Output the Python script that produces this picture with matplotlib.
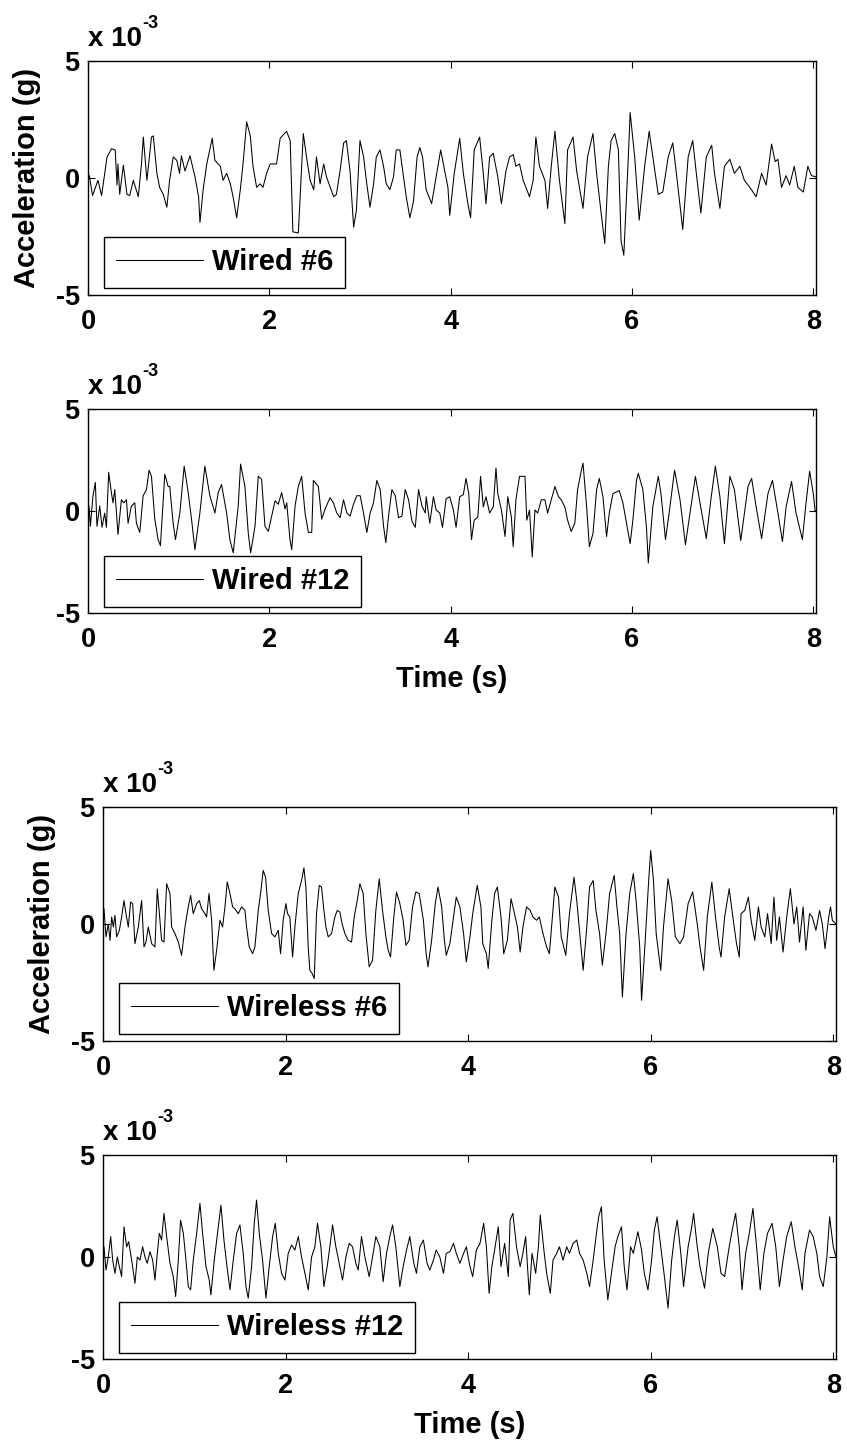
import matplotlib.pyplot as plt
from matplotlib.transforms import offset_copy

plt.rcParams['font.family'] = ['Liberation Sans', 'DejaVu Sans']
plt.rcParams['font.weight'] = 'bold'
plt.rcParams['axes.labelweight'] = 'bold'
plt.rcParams['axes.unicode_minus'] = False

# acceleration in units of 1e-3 g as (time [s], value)
wired6 = [
    (0.0, 0.1), (0.015, 0.1), (0.05, -0.75), (0.11, -0.1), (0.15, -0.75), (0.21, 0.9), (0.26, 1.25),
    (0.30, 1.2), (0.32, -0.3), (0.33, 0.6), (0.35, -0.7), (0.39, 0.55), (0.43, -0.7), (0.46, -0.75),
    (0.50, -0.1), (0.555, -0.8), (0.59, 0.6), (0.61, 1.75), (0.65, -0.1), (0.665, 0.45), (0.70, 1.75),
    (0.72, 1.8), (0.76, 0.2), (0.79, -0.4), (0.83, -0.7), (0.87, -1.25), (0.90, -0.1), (0.94, 0.9),
    (0.98, 0.75), (1.01, 0.2), (1.03, 0.95), (1.07, 0.3), (1.125, 0.95), (1.18, 0.05), (1.22, -0.8),
    (1.235, -1.9), (1.27, -0.5), (1.31, 0.6), (1.37, 1.7), (1.40, 0.75), (1.46, 0.5), (1.49, -0.1),
    (1.53, 0.2), (1.57, -0.25), (1.60, -0.8), (1.64, -1.7), (1.68, -0.5), (1.71, 0.6), (1.75, 2.4),
    (1.79, 1.8), (1.82, 0.5), (1.86, -0.4), (1.90, -0.25), (1.93, -0.4), (1.97, 0.2), (2.01, 0.6),
    (2.08, 0.6), (2.12, 1.7), (2.19, 2.0), (2.23, 1.6), (2.26, -2.3), (2.32, -2.35), (2.34, -0.8),
    (2.375, 1.9), (2.41, 0.9), (2.45, -0.1), (2.49, -0.5), (2.52, 0.9), (2.56, -0.25), (2.60, 0.6),
    (2.63, 0.05), (2.71, -0.8), (2.74, -0.7), (2.78, 0.3), (2.82, 1.5), (2.85, 1.6), (2.89, 0.3),
    (2.93, -2.1), (2.96, -1.4), (3.00, 1.6), (3.04, 0.9), (3.07, -0.1), (3.11, -1.25), (3.15, -0.25),
    (3.18, 0.9), (3.22, 1.2), (3.26, 0.5), (3.29, -0.25), (3.33, -0.5), (3.37, 0.05), (3.40, 1.2),
    (3.44, 1.2), (3.48, 0.05), (3.51, -0.8), (3.55, -1.7), (3.59, -1.0), (3.63, 0.9), (3.66, 1.3),
    (3.69, 0.9), (3.73, -0.5), (3.79, -1.1), (3.86, 0.5), (3.89, 1.2), (3.93, 0.4), (3.97, -0.4),
    (3.99, -1.6), (4.04, 0.2), (4.10, 1.7), (4.14, 0.2), (4.19, -1.1), (4.22, -1.7), (4.26, 1.2),
    (4.32, 1.75), (4.36, 0.2), (4.39, -1.1), (4.43, 0.9), (4.47, 1.05), (4.52, 0.05), (4.56, -1.1),
    (4.61, 0.3), (4.65, 0.9), (4.69, 1.0), (4.72, 0.5), (4.76, 0.6), (4.80, -0.1), (4.83, -0.4),
    (4.87, -0.8), (4.91, -0.1), (4.94, 1.75), (4.98, 0.5), (5.04, -0.1), (5.07, -1.3), (5.11, 0.5),
    (5.15, 2.0), (5.20, -0.1), (5.26, -1.95), (5.29, 1.2), (5.35, 1.75), (5.39, 0.3), (5.46, -1.3),
    (5.51, 0.9), (5.57, 1.9), (5.61, 0.2), (5.66, -1.5), (5.70, -2.8), (5.74, 0.5), (5.77, 1.6),
    (5.81, 1.9), (5.85, 1.2), (5.88, -2.7), (5.91, -3.3), (5.96, 0.9), (5.98, 2.8), (6.03, 0.9),
    (6.08, -1.8), (6.14, 0.5), (6.19, 2.0), (6.23, 0.9), (6.29, -0.7), (6.34, -0.6), (6.40, 0.9),
    (6.45, 1.5), (6.49, 0.2), (6.56, -2.2), (6.62, 0.9), (6.67, 1.6), (6.71, 0.2), (6.76, -1.5),
    (6.82, 0.9), (6.88, 1.4), (6.91, 0.2), (6.97, -1.3), (7.02, 0.5), (7.08, 0.8), (7.13, 0.2),
    (7.19, 0.5), (7.24, -0.1), (7.30, -0.4), (7.37, -0.8), (7.43, 0.2), (7.48, -0.3), (7.54, 1.45),
    (7.58, 0.7), (7.61, 0.8), (7.65, -0.4), (7.70, 0.1), (7.74, -0.3), (7.79, 0.5), (7.83, -0.4),
    (7.89, -0.6), (7.94, 0.5), (7.98, 0.1), (8.03, 0.05),
]

wired12 = [
    (0.0, 0.0), (0.011, 0.25), (0.026, -0.75), (0.055, 0.75), (0.081, 1.4), (0.099, -0.75), (0.129, 0.25),
    (0.155, -0.8), (0.184, -0.1), (0.203, -0.8), (0.228, 1.9), (0.258, 0.9), (0.276, 0.4), (0.295, 1.05),
    (0.331, -1.15), (0.368, 0.55), (0.394, 0.4), (0.424, 0.55), (0.442, -0.6), (0.479, 0.25), (0.516, 0.4),
    (0.534, -0.6), (0.571, -1.05), (0.608, 0.75), (0.645, 1.05), (0.674, 2.0), (0.700, 1.7), (0.737, -0.4),
    (0.773, -1.4), (0.799, -1.7), (0.847, 1.8), (0.884, 1.2), (0.902, 1.2), (0.939, -0.6), (0.965, -1.4),
    (1.013, -0.1), (1.061, 2.2), (1.105, 0.9), (1.142, -0.4), (1.179, -1.9), (1.234, -0.1), (1.289, 2.2),
    (1.344, 0.75), (1.400, -0.1), (1.436, 0.9), (1.473, 1.3), (1.529, -0.1), (1.565, -1.4), (1.602, -2.05),
    (1.657, 0.25), (1.683, 2.3), (1.731, 1.2), (1.768, -1.1), (1.794, -2.05), (1.842, -0.75), (1.878, 1.7),
    (1.915, 1.55), (1.952, -0.75), (1.989, -1.0), (2.026, -0.25), (2.063, 0.5), (2.099, 0.33), (2.136, 0.9),
    (2.173, 0.1), (2.192, 0.4), (2.228, -1.4), (2.247, -1.9), (2.284, 0.25), (2.320, 1.2), (2.357, 1.7),
    (2.394, -0.1), (2.431, -1.05), (2.468, -1.05), (2.486, 1.5), (2.541, 1.2), (2.578, -0.4), (2.615, 0.1),
    (2.670, 0.65), (2.707, 0.4), (2.744, -0.1), (2.781, -0.33), (2.818, 0.55), (2.855, -0.1), (2.891, -0.25),
    (2.928, 0.33), (2.965, 0.75), (3.002, 0.75), (3.039, -0.1), (3.076, -1.05), (3.112, -0.1), (3.149, 0.4),
    (3.186, 1.5), (3.223, 1.05), (3.260, -0.75), (3.285, -1.55), (3.315, -0.25), (3.352, 1.05), (3.389, 0.75),
    (3.425, -0.33), (3.462, -0.25), (3.499, 1.05), (3.536, 0.55), (3.573, -0.5), (3.610, -0.8), (3.646, 1.05),
    (3.683, 0.25), (3.720, -0.1), (3.73, 0.7), (3.77, -0.6), (3.81, 0.7), (3.84, 0.05), (3.88, -0.1),
    (3.91, -0.8), (3.95, 0.6), (3.99, 0.7), (4.03, 0.05), (4.06, -0.8), (4.10, 0.7), (4.14, 0.8),
    (4.17, 1.6), (4.20, 0.85), (4.23, -1.4), (4.26, -0.45), (4.30, -0.3), (4.33, 1.7), (4.36, 0.2),
    (4.39, 0.7), (4.43, -0.1), (4.47, 0.2), (4.50, 2.1), (4.52, 0.85), (4.56, 0.05), (4.60, -1.25),
    (4.63, 0.7), (4.67, -0.3), (4.69, -1.75), (4.72, 0.55), (4.76, 1.7), (4.82, 1.7), (4.84, -0.45),
    (4.87, 0.05), (4.90, -2.25), (4.93, 0.05), (4.96, -0.1), (5.00, 0.55), (5.04, 0.55), (5.07, -0.1),
    (5.11, 0.55), (5.15, 1.2), (5.19, 0.7), (5.22, 0.55), (5.26, 0.2), (5.29, -0.45), (5.33, -1.0),
    (5.37, -0.6), (5.40, 1.05), (5.44, 1.95), (5.46, 2.35), (5.50, 0.2), (5.53, -1.75), (5.57, -1.1),
    (5.61, 1.05), (5.64, 1.6), (5.68, 0.7), (5.72, -1.25), (5.75, -0.1), (5.79, 0.85), (5.86, 1.0),
    (5.90, 0.4), (5.94, -0.6), (5.98, -1.6), (6.01, -0.45), (6.05, 1.5), (6.07, 1.85), (6.12, 1.05),
    (6.16, -0.8), (6.18, -2.55), (6.23, 0.2), (6.29, 1.7), (6.32, 0.85), (6.37, -1.4), (6.41, -0.1),
    (6.47, 2.0), (6.53, 0.55), (6.59, -1.65), (6.64, -0.1), (6.70, 1.7), (6.77, -0.1), (6.82, -1.35),
    (6.87, 0.55), (6.92, 2.2), (6.97, 0.7), (7.02, -1.6), (7.08, 1.7), (7.13, 1.05), (7.20, -1.45),
    (7.28, 1.2), (7.32, 1.6), (7.37, 0.2), (7.43, -1.35), (7.50, 0.85), (7.55, 1.5), (7.61, -0.1),
    (7.66, -1.5), (7.70, 0.2), (7.76, 1.45), (7.81, -0.1), (7.88, -1.4), (7.92, 0.4), (7.96, 1.95),
    (8.00, 0.85), (8.02, 0.0), (8.03, 0.0),
]

wireless6 = [
    (0.0, 0.0), (0.011, 0.65), (0.033, -0.55), (0.058, 0.0), (0.077, -0.7), (0.095, 0.3), (0.113, -0.13),
    (0.131, 0.37), (0.150, -0.55), (0.179, -0.27), (0.204, 0.3), (0.230, 1.0), (0.252, 0.44), (0.277, -0.13),
    (0.303, 0.94), (0.325, 0.87), (0.350, -0.84), (0.387, -0.13), (0.423, 1.0), (0.449, -0.98), (0.471, -0.77),
    (0.496, -0.13), (0.533, -0.84), (0.569, -0.98), (0.595, 1.5), (0.624, 0.16), (0.642, -0.7), (0.668, -0.77),
    (0.697, 1.72), (0.734, 1.3), (0.752, -0.13), (0.788, -0.41), (0.825, -0.77), (0.861, -1.34), (0.898, -0.13),
    (0.934, 0.73), (0.960, 1.22), (0.989, 0.44), (1.026, 0.87), (1.055, 1.0), (1.080, 0.65), (1.117, 0.44),
    (1.135, 0.3), (1.161, 1.3), (1.190, 0.16), (1.215, -1.98), (1.245, -1.12), (1.281, 0.16), (1.310, -0.13),
    (1.336, 0.73), (1.361, 1.8), (1.391, 1.3), (1.420, 0.73), (1.445, 0.65), (1.482, 0.44), (1.518, 0.73),
    (1.555, 0.58), (1.573, -0.13), (1.602, -0.98), (1.639, -1.27), (1.664, -0.98), (1.701, 0.58), (1.726, 1.3),
    (1.755, 2.29), (1.781, 2.0), (1.810, 0.58), (1.847, -0.41), (1.883, -0.55), (1.920, -0.27), (1.945, -1.27),
    (1.974, 0.16), (2.004, 0.87), (2.022, 0.44), (2.047, 0.3), (2.077, -1.41), (2.102, -0.13), (2.139, 1.3),
    (2.175, 1.86), (2.201, 2.4), (2.223, 1.58), (2.248, -0.98), (2.266, -1.98), (2.292, -2.12), (2.314, -2.33),
    (2.339, 0.44), (2.369, 1.65), (2.394, 1.58), (2.420, 0.58), (2.442, -0.13), (2.467, -0.55), (2.504, -0.41),
    (2.540, 0.3), (2.566, 0.58), (2.595, 0.51), (2.620, 0.0), (2.650, -0.41), (2.686, -0.7), (2.723, -0.77),
    (2.752, 0.3), (2.785, 1.0), (2.814, 1.72), (2.850, 1.3), (2.880, -0.41), (2.916, -1.83), (2.953, -1.55),
    (2.989, 0.58), (3.026, 1.93), (3.062, 0.58), (3.099, -0.55), (3.124, -1.12), (3.150, -1.41), (3.186, 0.3),
    (3.215, 1.37), (3.252, 0.87), (3.288, 0.16), (3.318, -0.91), (3.354, -0.7), (3.391, 0.73), (3.427, 1.37),
    (3.464, 1.3), (3.51, 0.16), (3.54, -1.27), (3.56, -1.83), (3.60, -0.7), (3.64, 0.87), (3.67, 1.58),
    (3.71, 0.73), (3.74, -0.7), (3.76, -1.34), (3.80, -0.84), (3.84, 0.3), (3.87, 1.15), (3.91, 0.73),
    (3.95, -0.41), (3.98, -1.62), (4.02, -0.55), (4.05, 0.44), (4.10, 1.65), (4.14, 0.73), (4.16, -0.84),
    (4.20, -1.27), (4.22, -1.9), (4.26, 0.16), (4.29, 1.3), (4.32, 1.58), (4.36, 0.3), (4.39, -1.27),
    (4.43, -0.7), (4.47, 1.08), (4.50, 0.58), (4.54, -0.13), (4.57, -1.2), (4.60, -0.13), (4.64, 0.73),
    (4.68, 0.58), (4.71, 0.3), (4.75, 0.16), (4.78, 0.3), (4.82, -0.41), (4.86, -0.98), (4.89, -1.27),
    (4.92, 0.16), (4.95, 1.58), (4.99, 1.15), (5.02, -0.55), (5.07, -1.34), (5.11, 0.44), (5.16, 2.0),
    (5.19, 1.0), (5.23, -0.7), (5.26, -1.98), (5.30, -0.13), (5.33, 1.58), (5.37, 1.86), (5.40, 0.58),
    (5.44, -0.41), (5.47, -1.76), (5.51, -0.41), (5.55, 1.3), (5.60, 2.08), (5.63, 0.73), (5.66, -0.41),
    (5.69, -3.12), (5.73, -0.41), (5.77, 1.3), (5.81, 2.15), (5.84, 1.0), (5.88, -0.98), (5.90, -3.26),
    (5.94, -0.7), (5.98, 2.0), (6.00, 3.14), (6.03, 1.86), (6.06, -0.41), (6.11, -1.98), (6.14, -0.13),
    (6.19, 1.93), (6.23, 1.0), (6.27, -0.55), (6.32, -0.84), (6.36, -0.55), (6.41, 0.87), (6.46, 1.37),
    (6.51, 0.0), (6.54, -0.98), (6.58, -1.98), (6.62, 0.3), (6.67, 1.79), (6.71, 0.3), (6.75, -0.98),
    (6.77, -1.41), (6.81, 0.3), (6.86, 1.51), (6.90, 0.3), (6.94, -0.84), (6.97, -1.41), (6.99, 0.44),
    (7.03, 0.58), (7.07, 1.15), (7.10, 0.16), (7.14, -0.7), (7.18, 0.73), (7.21, -0.13), (7.25, -0.55),
    (7.28, 0.44), (7.32, -0.84), (7.35, 1.15), (7.38, -0.7), (7.41, 0.3), (7.45, -1.2), (7.49, 0.3),
    (7.53, 1.51), (7.57, 0.0), (7.60, 0.73), (7.63, -0.77), (7.67, 0.73), (7.70, -1.12), (7.74, 0.44),
    (7.77, 0.3), (7.81, -0.27), (7.85, 0.58), (7.88, 0.0), (7.91, -1.05), (7.95, 0.3), (7.97, 0.73),
    (7.99, 0.16), (8.03, 0.0),
]

wireless12 = [
    (0.0, 0.0), (0.011, 0.5), (0.033, -0.64), (0.058, 0.0), (0.084, 1.0), (0.106, -0.15), (0.131, -0.8),
    (0.157, 0.0), (0.179, -0.47), (0.204, -0.96), (0.230, 1.48), (0.259, 0.5), (0.281, 0.75), (0.314, -0.15),
    (0.350, -1.29), (0.376, 0.0), (0.405, -0.15), (0.434, 0.5), (0.460, 0.0), (0.485, -0.31), (0.515, 0.26),
    (0.544, -0.15), (0.569, -1.13), (0.595, 0.18), (0.617, 1.16), (0.642, 0.83), (0.668, 2.14), (0.697, 1.0),
    (0.734, -0.31), (0.770, -0.96), (0.796, -1.94), (0.825, -0.15), (0.850, 1.81), (0.880, 1.16), (0.909, -0.15),
    (0.934, -1.45), (0.960, -1.61), (0.989, -0.15), (1.026, 1.16), (1.062, 2.63), (1.091, 1.16), (1.128, -0.47),
    (1.164, -1.13), (1.182, -1.86), (1.219, -0.15), (1.255, 1.16), (1.292, 2.54), (1.325, 0.83), (1.354, -0.31),
    (1.391, -1.61), (1.427, -0.15), (1.464, 1.16), (1.500, 1.57), (1.536, 0.18), (1.566, -1.45), (1.591, -2.02),
    (1.628, -0.47), (1.657, 1.65), (1.682, 2.79), (1.712, 1.16), (1.748, -0.15), (1.785, -2.02), (1.821, -0.47),
    (1.858, 1.0), (1.887, 1.65), (1.920, 0.18), (1.956, -0.8), (1.993, -1.13), (2.029, 0.18), (2.066, 0.59),
    (2.102, 0.34), (2.139, 1.0), (2.175, 0.0), (2.212, -0.8), (2.248, -1.61), (2.285, 0.0), (2.321, 0.5),
    (2.350, 1.65), (2.387, 0.5), (2.420, -1.45), (2.456, -0.47), (2.485, 0.5), (2.515, 1.57), (2.551, 0.5),
    (2.588, -0.31), (2.624, -1.13), (2.661, 0.0), (2.697, 0.67), (2.734, 0.5), (2.770, -0.31), (2.796, -0.64),
    (2.832, 1.0), (2.869, 0.0), (2.916, -0.96), (2.953, 0.0), (2.989, 1.0), (3.033, 0.5), (3.069, -1.21),
    (3.106, 0.18), (3.142, 1.0), (3.172, 1.57), (3.208, 0.5), (3.252, -1.45), (3.288, -0.47), (3.325, 0.34),
    (3.361, 1.0), (3.405, -0.31), (3.434, -0.8), (3.471, 0.5), (3.51, 0.83), (3.55, -0.31), (3.58, -0.64),
    (3.62, -0.15), (3.65, 0.34), (3.69, 0.0), (3.73, -0.8), (3.76, 0.18), (3.80, 0.26), (3.84, 0.67),
    (3.87, 0.18), (3.91, -0.31), (3.95, 0.18), (3.98, 0.5), (4.02, -0.47), (4.05, -0.96), (4.09, 0.34),
    (4.13, 0.67), (4.17, 1.65), (4.20, 0.5), (4.23, -1.78), (4.26, -0.47), (4.29, 0.34), (4.33, 1.48),
    (4.36, -0.47), (4.40, 0.67), (4.44, -0.96), (4.46, 1.81), (4.49, 2.14), (4.53, 0.5), (4.57, -0.47),
    (4.60, 0.18), (4.63, 1.0), (4.67, -1.86), (4.70, 0.18), (4.74, -0.8), (4.77, 0.5), (4.79, 2.06),
    (4.83, 0.34), (4.86, -0.8), (4.90, -1.78), (4.93, -0.15), (4.97, 0.18), (5.00, 0.5), (5.04, -0.15),
    (5.08, 0.5), (5.11, 0.18), (5.15, 0.67), (5.19, 0.83), (5.22, 0.18), (5.26, -0.15), (5.30, -0.8),
    (5.33, -1.45), (5.37, -0.15), (5.41, 1.32), (5.43, 1.97), (5.46, 2.46), (5.49, -0.15), (5.53, -2.1),
    (5.56, -1.13), (5.61, 0.5), (5.64, 1.0), (5.68, 1.48), (5.71, -0.47), (5.74, -1.61), (5.78, 0.5),
    (5.81, 0.18), (5.86, 1.24), (5.90, 0.34), (5.93, -0.8), (5.97, -1.61), (6.01, -0.15), (6.04, 1.32),
    (6.07, 1.97), (6.11, 0.5), (6.15, -0.96), (6.19, -2.5), (6.23, -0.15), (6.26, 1.0), (6.29, 1.81),
    (6.33, 0.18), (6.36, -1.45), (6.41, 0.5), (6.45, 1.48), (6.47, 2.14), (6.51, 0.5), (6.54, -0.47),
    (6.59, -1.53), (6.63, 0.18), (6.68, 1.4), (6.73, 0.5), (6.77, -0.8), (6.81, -0.96), (6.86, 0.5),
    (6.90, 1.48), (6.93, 2.14), (6.97, 0.5), (7.00, -1.61), (7.04, 0.18), (7.08, 1.16), (7.12, 2.38),
    (7.16, 0.5), (7.20, -1.61), (7.24, 0.18), (7.28, 1.16), (7.33, 1.65), (7.37, 0.5), (7.41, -1.45),
    (7.45, -0.15), (7.49, 1.0), (7.54, 1.73), (7.58, 0.5), (7.62, -0.47), (7.66, -1.61), (7.69, 0.18),
    (7.74, 1.32), (7.78, 1.0), (7.82, 0.18), (7.85, -0.96), (7.89, -1.45), (7.93, 0.0), (7.96, 1.97),
    (8.00, 0.5), (8.03, 0.0),
]

x_ticks = [0, 2, 4, 6, 8]
y_ticks = [-5, 0, 5]

W, H = 847, 1443
fig = plt.figure(figsize=(W / 100, H / 100), dpi=100)


def panel(box, series, name, ylab=None, ylab_x=-0.07, xlab=None):
    # box is (left, top, right, bottom) in pixels
    l, t, r, b = box
    ax = fig.add_axes([l / W, 1 - b / H, (r - l) / W, (b - t) / H])
    ts, vs = zip(*series)
    ax.plot(ts, vs, color='black', lw=0.75, label=name)
    ax.set_xlim(0, 8.03)
    ax.set_ylim(-5, 5)
    ax.set_xticks(x_ticks)
    ax.set_yticks(y_ticks)
    ax.tick_params(direction='in', top=True, right=True, length=5, width=0.8, labelsize=19.5)
    ax.tick_params(axis='x', pad=10)
    ax.tick_params(axis='y', pad=6)
    for s in ax.spines.values():
        s.set_linewidth(1.0)

    leg = ax.legend(loc='lower left', bbox_to_anchor=(0.022, 0.03), borderaxespad=0,
                    fontsize=21, fancybox=False, framealpha=1, edgecolor='black',
                    handlelength=3.0, handletextpad=0.3, borderpad=0.4)
    leg.get_frame().set_linewidth(1.0)

    # scale factor above the axes, MATLAB style
    tr = offset_copy(ax.transAxes, fig=fig, x=0, y=15, units='dots')
    base = ax.text(0, 1, 'x 10', transform=tr, fontsize=20, va='baseline', ha='left')
    ax.annotate('-3', xy=(1, 1), xycoords=base, xytext=(0, -4), textcoords='offset points',
                fontsize=13, va='bottom', ha='left')

    if ylab:
        ax.set_ylabel(ylab, fontsize=21)
        ax.yaxis.set_label_coords(ylab_x, 0.5)
    if xlab:
        ax.set_xlabel(xlab, fontsize=21, labelpad=8.5)
    return ax


panel((88, 61, 816, 295), wired6, 'Wired #6', ylab='Acceleration (g)', ylab_x=-0.065)
panel((88, 409, 816, 613), wired12, 'Wired #12', xlab='Time (s)')
panel((103, 807, 836, 1041), wireless6, 'Wireless #6', ylab='Acceleration (g)', ylab_x=-0.064)
panel((103, 1155, 836, 1359), wireless12, 'Wireless #12', xlab='Time (s)')

fig.savefig('out.png', dpi=100)
